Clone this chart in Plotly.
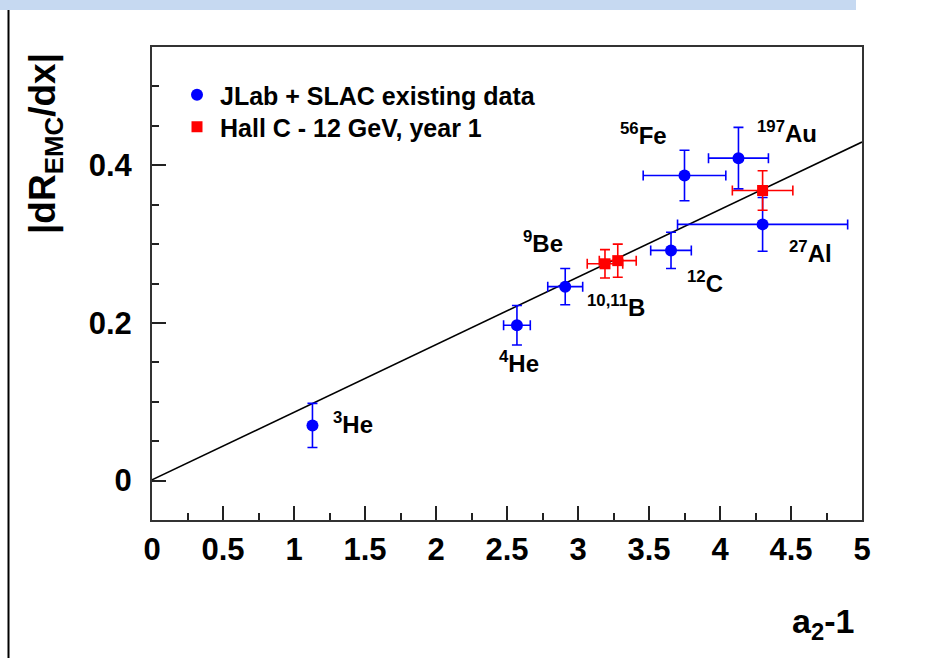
import plotly.graph_objects as go

# JLab + SLAC existing data: a2-1 vs |dR_EMC/dx|
blue_x = [1.13, 2.57, 2.91, 3.655, 3.75, 4.13, 4.30]
blue_y = [0.070, 0.197, 0.246, 0.292, 0.387, 0.409, 0.325]
blue_xerr = [0.0, 0.094, 0.123, 0.143, 0.291, 0.211, 0.599]
blue_yerr = [0.028, 0.025, 0.023, 0.023, 0.032, 0.039, 0.034]

# Hall C - 12 GeV, year 1 projections
red_x = [3.19, 3.28, 4.30]
red_y = [0.275, 0.279, 0.368]
red_xerr = [0.125, 0.130, 0.213]
red_yerr = [0.018, 0.021, 0.025]

# linear fit through the data
fit_intercept = 0.001
fit_slope = 0.0857
fit_x = [0.0, 5.0]

# nucleus labels and where they sit (data coordinates)
label_text = ["<sup>3</sup>He", "<sup>4</sup>He", "<sup>9</sup>Be", "<sup>10,11</sup>B",
              "<sup>12</sup>C", "<sup>56</sup>Fe", "<sup>197</sup>Au", "<sup>27</sup>Al"]
label_x = [1.418, 2.583, 2.756, 3.270, 3.896, 3.463, 4.474, 4.636]
label_y = [0.0735, 0.151, 0.303, 0.222, 0.252, 0.440, 0.442, 0.290]

x_ticks = [0, 0.5, 1, 1.5, 2, 2.5, 3, 3.5, 4, 4.5, 5]
y_ticks = [0, 0.2, 0.4]

W, H = 949, 658
ML, MR, MT, MB = 152, 87, 47, 138
PW, PH = W - ML - MR, H - MT - MB


def px_x(px):
    return (px - ML) / PW


def px_y(py):
    return (H - MB - py) / PH


FONT = "Liberation Sans, Arial, Helvetica, sans-serif"

fig = go.Figure()

fig.add_trace(go.Scatter(
    x=fit_x, y=[fit_intercept + fit_slope * v for v in fit_x],
    mode="lines", line=dict(color="black", width=1.6),
    showlegend=False, hoverinfo="skip"))

fig.add_trace(go.Scatter(
    x=blue_x, y=blue_y, mode="markers", name="JLab + SLAC existing data",
    legend="legend",
    marker=dict(symbol="circle", size=12, color="#0000ff"),
    error_x=dict(type="data", array=blue_xerr, color="#0000ff", thickness=1.6, width=5),
    error_y=dict(type="data", array=blue_yerr, color="#0000ff", thickness=1.6, width=5)))

fig.add_trace(go.Scatter(
    x=red_x, y=red_y, mode="markers", name="Hall C - 12 GeV, year 1",
    legend="legend2",
    marker=dict(symbol="square", size=11, color="#ff0000"),
    error_x=dict(type="data", array=red_xerr, color="#ff0000", thickness=1.6, width=5),
    error_y=dict(type="data", array=red_yerr, color="#ff0000", thickness=1.6, width=5)))

annotations = []
for t, x, y in zip(label_text, label_x, label_y):
    annotations.append(dict(x=x, y=y, xref="x", yref="y", text=t, showarrow=False,
                            xanchor="center", yanchor="middle",
                            font=dict(family=FONT, size=24, color="black", weight="bold")))

annotations.append(dict(x=px_x(856), y=px_y(623), xref="paper", yref="paper",
                        text="a<sub>2</sub>-1", showarrow=False,
                        xanchor="right", yanchor="middle",
                        font=dict(family=FONT, size=34, color="black", weight="bold")))
annotations.append(dict(x=px_x(45), y=px_y(144), xref="paper", yref="paper",
                        text="|dR<sub>EMC</sub>/dx|", showarrow=False, textangle=-90,
                        xanchor="center", yanchor="middle",
                        font=dict(family=FONT, size=37, color="black", weight="bold")))

shapes = [
    dict(type="rect", xref="paper", yref="paper", x0=px_x(0), x1=px_x(856),
         y0=px_y(10), y1=px_y(0), fillcolor="#c6d9f1", line=dict(width=0), layer="below"),
    dict(type="line", xref="paper", yref="paper", x0=px_x(8.5), x1=px_x(8.5),
         y0=px_y(658), y1=px_y(10), line=dict(color="black", width=2)),
]

axis_common = dict(showgrid=False, zeroline=False, showline=True, mirror=True,
                   linecolor="#333333", linewidth=2, ticks="inside", ticklen=14,
                   tickwidth=1.5, tickcolor="#222222",
                   tickfont=dict(family=FONT, size=31, color="black", weight="bold"))

legend_common = dict(xanchor="left", yanchor="top", bgcolor="rgba(0,0,0,0)",
                     borderwidth=0, itemwidth=36,
                     font=dict(family=FONT, size=25, color="black", weight="bold"))

fig.update_layout(
    width=W, height=H,
    margin=dict(l=ML, r=MR, t=MT, b=MB),
    paper_bgcolor="white", plot_bgcolor="white",
    xaxis=dict(range=[0, 5], tickvals=x_ticks, ticktext=[f"{v:g}" for v in x_ticks],
               minor=dict(dtick=0.25, tick0=0, ticks="inside", ticklen=7, tickwidth=1.5,
                          tickcolor="#222222"),
               ticklabelstandoff=1, **axis_common),
    yaxis=dict(range=[-0.05, 0.55], tickvals=y_ticks, ticktext=[f"{v:g}" for v in y_ticks],
               minor=dict(dtick=0.05, tick0=0, ticks="inside", ticklen=7, tickwidth=1.5,
                          tickcolor="#222222"),
               ticklabelstandoff=12, **axis_common),
    legend=dict(x=px_x(174), y=px_y(72), **legend_common),
    legend2=dict(x=px_x(174), y=px_y(104), **legend_common),
    annotations=annotations,
    shapes=shapes,
)

fig.write_html("out.html")
